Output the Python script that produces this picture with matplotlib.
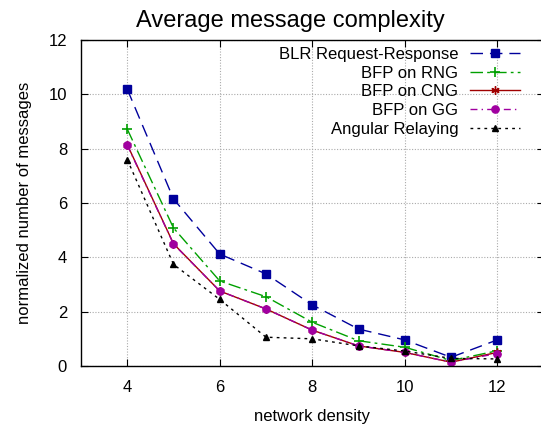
import matplotlib
matplotlib.use('Agg')
import matplotlib.pyplot as plt

plt.rcParams.update({
    'font.family': ['Liberation Sans', 'DejaVu Sans'],
    'font.size': 12,
})

# network density
density = [4, 5, 6, 7, 8, 9, 10, 11, 12]

# normalized number of messages per protocol
blr = [10.19, 6.15, 4.12, 3.39, 2.25, 1.36, 0.96, 0.32, 0.96]
bfp_rng = [8.72, 5.08, 3.13, 2.55, 1.61, 0.93, 0.69, 0.20, 0.56]
bfp_cng = [8.15, 4.50, 2.76, 2.10, 1.32, 0.74, 0.50, 0.14, 0.50]
bfp_gg = [8.13, 4.49, 2.76, 2.10, 1.32, 0.74, 0.50, 0.14, 0.46]
angular = [7.60, 3.74, 2.45, 1.06, 1.00, 0.74, 0.55, 0.28, 0.26]

labels = ['BLR Request-Response', 'BFP on RNG', 'BFP on CNG', 'BFP on GG', 'Angular Relaying']

W, H = 541, 426
fig = plt.figure(figsize=(W / 100, H / 100), dpi=100)
ax = fig.add_axes([81 / W, 60 / H, 462.5 / W, 326 / H])

ax.plot(density, blr, color='#00009c', lw=1.0, dashes=(9, 5),
        marker='s', ms=5.2, label=labels[0])
ax.plot(density, bfp_rng, color='#00a000', lw=1.0, dashes=(9, 3, 2, 3),
        marker='+', ms=6.5, mew=1.2, label=labels[1])
ax.plot(density, bfp_cng, color='#a00000', lw=1.0,
        marker=(6, 2, 0), ms=6, mew=1.0, label=labels[2])
ax.plot(density, bfp_gg, color='#a000a0', lw=1.0, dashes=(5, 3, 1, 3),
        marker='o', ms=5.2, label=labels[3])
ax.plot(density, angular, color='black', lw=1.0, dashes=(2, 3),
        marker='^', ms=4.5, label=labels[4])

ax.set_xlim(3, 13)
ax.set_ylim(0, 12)
ax.set_xticks([4, 6, 8, 10, 12])
ax.set_yticks([0, 2, 4, 6, 8, 10, 12])
ax.grid(True, color='#aaaaaa', linestyle=(0, (1, 1.5)), lw=0.8)
ax.tick_params(direction='in', top=True, right=True, length=5, pad=10)
for s in ax.spines.values():
    s.set_linewidth(1.0)

ax.set_xlabel('network density', labelpad=10)
ax.set_ylabel('normalized number of messages', labelpad=12)
fig.text(290 / W, (H - 27) / H, 'Average message complexity',
         ha='center', va='baseline', fontsize=17)

leg = ax.legend(loc='upper right', bbox_to_anchor=(520 / W, (H - 47) / H),
                bbox_transform=fig.transFigure, frameon=False, markerfirst=False,
                numpoints=1, handlelength=3.0, handletextpad=0.7,
                labelspacing=0.22, borderpad=0, borderaxespad=0)

fig.savefig('out.png', dpi=100)
